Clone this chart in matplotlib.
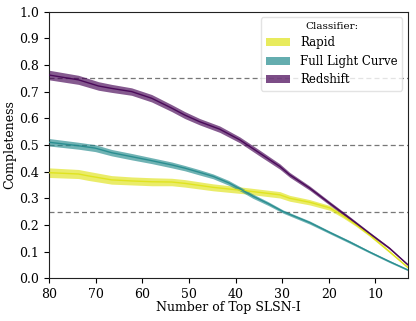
import numpy as np
import matplotlib
matplotlib.use("Agg")
import matplotlib.pyplot as plt
from matplotlib.patches import Patch

plt.rcParams['font.family'] = ['DejaVu Serif']

# Number of top SLSN-I (x) and completeness per classifier
x_red = [80, 73.7, 69.4, 66.6, 62.3, 58.0, 53.7, 50.9, 47.7, 43.4, 39.1, 34.8, 30.5, 28.4, 24.1, 19.8, 15.5, 11.3, 7.0, 3]
y_red = [0.762, 0.744, 0.721, 0.712, 0.700, 0.675, 0.638, 0.612, 0.587, 0.559, 0.519, 0.469, 0.419, 0.388, 0.338, 0.281, 0.225, 0.169, 0.113, 0.05]
e_red = [0.018, 0.017, 0.016, 0.015, 0.014, 0.014, 0.013, 0.013, 0.012, 0.012, 0.011, 0.011, 0.010, 0.009, 0.008, 0.007, 0.006, 0.005, 0.004, 0.003]

x_full = [80, 73.7, 70.1, 66.6, 62.3, 58.0, 53.7, 50.9, 47.7, 44.8, 41.5, 38.7, 36.3, 33.0, 29.8, 24.1, 19.8, 15.5, 11.3, 7.0, 3]
y_full = [0.510, 0.497, 0.488, 0.471, 0.456, 0.441, 0.425, 0.413, 0.397, 0.382, 0.358, 0.332, 0.308, 0.280, 0.250, 0.209, 0.172, 0.136, 0.099, 0.063, 0.031]
e_full = [0.014, 0.013, 0.013, 0.012, 0.012, 0.011, 0.011, 0.010, 0.010, 0.009, 0.009, 0.008, 0.008, 0.007, 0.006, 0.006, 0.005, 0.005, 0.004, 0.004, 0.003]

x_rapid = [80, 73.7, 71.6, 66.6, 62.3, 58.0, 53.7, 50.9, 44.8, 37.7, 30.5, 28.4, 24.1, 19.8, 17.0, 14.1, 11.3, 7.0, 3]
y_rapid = [0.396, 0.391, 0.384, 0.369, 0.365, 0.362, 0.361, 0.356, 0.341, 0.328, 0.313, 0.300, 0.285, 0.264, 0.235, 0.200, 0.163, 0.100, 0.040]
e_rapid = [0.018, 0.017, 0.017, 0.016, 0.015, 0.015, 0.014, 0.014, 0.013, 0.012, 0.012, 0.011, 0.010, 0.009, 0.008, 0.006, 0.005, 0.004, 0.003]

labels = ['Rapid', 'Full Light Curve', 'Redshift']
cmap = plt.get_cmap('viridis')
colors = [cmap(0.95), cmap(0.475), cmap(0.0)]
hlines = [0.25, 0.5, 0.75]

fig, ax = plt.subplots(figsize=(4.16, 3.21), dpi=100)
fig.subplots_adjust(left=0.118, right=0.981, top=0.964, bottom=0.133)

for yv in hlines:
    ax.axhline(yv, color='#777777', ls='--', lw=0.9, dashes=(4, 2.5), zorder=1)

series = [(x_rapid, y_rapid, e_rapid), (x_full, y_full, e_full), (x_red, y_red, e_red)]
for (xs, ys, es), c in zip(series, colors):
    xs = np.array(xs); ys = np.array(ys); es = np.array(es)
    ax.fill_between(xs, ys - es, ys + es, color=c, alpha=0.65, lw=0, zorder=2)
    ax.plot(xs, ys, color=c, lw=1.0, alpha=0.9, zorder=3)

ax.set_xlim(80, 3)
ax.set_ylim(0, 1.0)
ax.set_xticks([80, 70, 60, 50, 40, 30, 20, 10])
ax.set_yticks(np.arange(0, 1.01, 0.1))
ax.tick_params(labelsize=9)
ax.set_xlabel('Number of Top SLSN-I', fontsize=9, labelpad=0)
ax.set_ylabel('Completeness', fontsize=9, labelpad=2)
for s in ['top', 'right', 'left', 'bottom']:
    ax.spines[s].set_color('#222222')

handles = [Patch(facecolor=c, alpha=0.7, edgecolor='none') for c in colors]
leg = ax.legend(handles, labels, title='Classifier:', loc='upper right', fontsize=8.5,
                title_fontsize=7.5, frameon=True, framealpha=0.8, handlelength=2.1,
                borderpad=0.4, labelspacing=0.45)
leg.get_frame().set_edgecolor('#dddddd')

fig.savefig('out.png', dpi=100)
